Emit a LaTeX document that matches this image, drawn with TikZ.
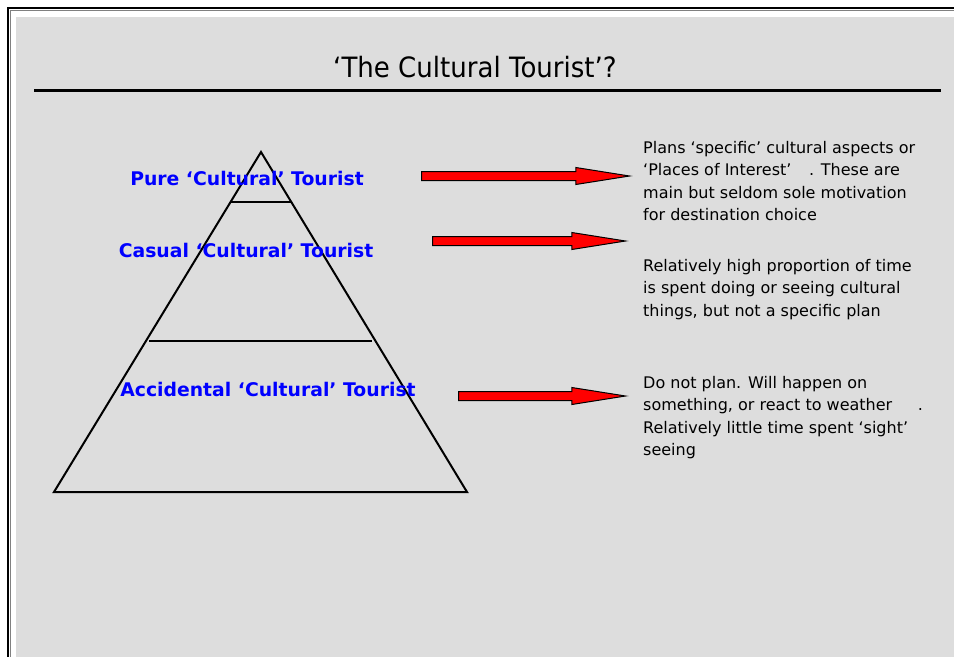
\documentclass[tikz,border=0pt]{standalone}
\usepackage{fontspec}
\setmainfont{DejaVu Sans}
\newfontfamily\titlefont{DejaVu Sans}[FakeStretch=0.93]
\usepackage{tikz}
\usetikzlibrary{positioning}
\usetikzlibrary{shapes.arrows}
\definecolor{slidegray}{RGB}{221,221,221}
\definecolor{tierblue}{RGB}{0,0,255}
\tikzset{
  tier/.style={font=\fontsize{18.8}{21}\selectfont\bfseries, text=tierblue, inner sep=0pt},
  note/.style={font=\fontsize{16}{22.5}\selectfont, align=left, anchor=north west, inner sep=0pt},
  redarrow/.style={single arrow, draw=black, fill=red, line width=1pt, inner sep=4pt,
    single arrow head extend=4pt, single arrow tip angle=18, minimum width=16pt, anchor=tail}
}

\begin{document}
\begin{tikzpicture}[x=1pt,y=-1pt]
\useasboundingbox (0,0) rectangle (954,657);

% slide frame
\fill[slidegray] (16,17) rectangle (954,657);
\draw[line width=2pt] (954,8) -- (8,8) -- (8,657);
\draw[gray, line width=1pt] (954,10.5) -- (10.5,10.5) -- (10.5,657);

\node (title) at (475,67) {\titlefont\fontsize{28}{32}\selectfont ‘The Cultural Tourist’?};
\draw[line width=3pt] (34,90) -- (941,90);

% pyramid
\coordinate (apex) at (261,152);
\coordinate (baseL) at (54,492);
\coordinate (baseR) at (467,492);
\draw[line width=2pt] (apex) -- (baseL) -- (baseR) -- cycle;
\draw[line width=2.5pt] (230,202) -- (291,202);
\draw[line width=2.5pt] (149,341) -- (372,341);

\node[tier] (pure) at (247,178) {Pure ‘Cultural’ Tourist};
\node[tier] (casual) at (246,250) {Casual ‘Cultural’ Tourist};
\node[tier] (accidental) at (268,389) {Accidental ‘Cultural’ Tourist};

% descriptions
\node[note] (pureNote) at (643,141) {Plans ‘specific’ cultural aspects or\\
  ‘Places of Interest’\hspace{1.1em}. These are\\
  main but seldom sole motivation\\
  for destination choice};
\node[note] (casualNote) at (643,259) {Relatively high proportion of time\\
  is spent doing or seeing cultural\\
  things, but not a specific plan};
\node[note] (accidentalNote) at (643,376) {Do not plan. Will happen on\\
  something, or react to weather\hspace{1.6em}.\\
  Relatively little time spent ‘sight’\\
  seeing};

% arrows
\node[redarrow, minimum height=208pt] (pureArrow) at (421,176) {};
\node[redarrow, minimum height=193pt] (casualArrow) at (432,241) {};
\node[redarrow, minimum height=167pt] (accidentalArrow) at (458,396) {};
\end{tikzpicture}
\end{document}
